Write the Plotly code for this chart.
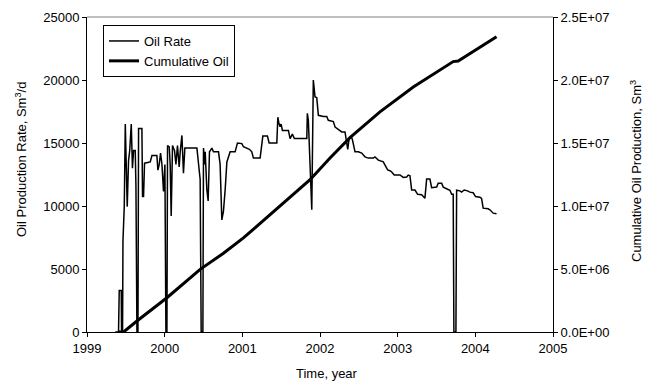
import plotly.graph_objects as go

# Oil rate, Sm3/d (decimal year, value)
rate_year = [
    1999.364, 1999.406, 1999.415, 1999.441, 1999.445, 1999.458, 1999.463, 1999.480, 1999.493, 1999.505,
    1999.518, 1999.535, 1999.550, 1999.570, 1999.585, 1999.600, 1999.621, 1999.630, 1999.643, 1999.656,
    1999.664, 1999.707, 1999.715, 1999.728, 1999.741, 1999.814, 1999.836, 1999.900, 1999.913, 1999.930,
    1999.947, 1999.965, 1999.985, 2000.003, 2000.016, 2000.029, 2000.037, 2000.059, 2000.071, 2000.084,
    2000.101, 2000.127, 2000.145, 2000.165, 2000.187, 2000.200, 2000.222, 2000.242, 2000.260, 2000.415,
    2000.435, 2000.457, 2000.470, 2000.492, 2000.500, 2000.515, 2000.522, 2000.543, 2000.560, 2000.577,
    2000.608, 2000.628, 2000.693, 2000.714, 2000.736, 2000.757, 2000.779, 2000.801, 2000.843, 2000.907,
    2000.937, 2000.994, 2001.014, 2001.091, 2001.122, 2001.143, 2001.229, 2001.251, 2001.264, 2001.323,
    2001.345, 2001.444, 2001.457, 2001.473, 2001.486, 2001.499, 2001.516, 2001.593, 2001.615, 2001.644,
    2001.670, 2001.830, 2001.837, 2001.850, 2001.859, 2001.894, 2001.914, 2001.936, 2001.958, 2001.979,
    2002.043, 2002.087, 2002.107, 2002.172, 2002.194, 2002.258, 2002.280, 2002.322, 2002.344, 2002.357,
    2002.374, 2002.399, 2002.416, 2002.451, 2002.493, 2002.537, 2002.579, 2002.622, 2002.686, 2002.708,
    2002.751, 2002.815, 2002.837, 2002.871, 2002.901, 2002.923, 2002.956, 2003.030, 2003.072, 2003.116,
    2003.136, 2003.158, 2003.180, 2003.223, 2003.257, 2003.309, 2003.351, 2003.373, 2003.415, 2003.437,
    2003.502, 2003.522, 2003.566, 2003.587, 2003.643, 2003.673, 2003.695, 2003.715, 2003.724, 2003.750,
    2003.759, 2003.801, 2003.823, 2003.857, 2003.900, 2003.930, 2003.972, 2004.003, 2004.059, 2004.080,
    2004.101, 2004.165, 2004.187, 2004.230, 2004.273,
]
rate_value = [
    0, 0, 3300, 3300, 0, 0, 7200, 10000, 16500, 12000,
    9950, 13600, 14400, 16500, 13000, 14400, 14400, 11600, 0, 0,
    16150, 16150, 10750, 10750, 13400, 13500, 14000, 14000, 12850, 13300,
    14200, 13300, 11150, 13300, 0, 0, 14800, 14700, 13300, 9200,
    14800, 14400, 13300, 14800, 13100, 14300, 15600, 12600, 14600, 14600,
    13100, 12100, 0, 0, 14600, 13300, 14300, 11300, 10400, 14300,
    14600, 14300, 14300, 13300, 8900, 9600, 11300, 13500, 14300, 14300,
    15000, 14950, 14700, 14500, 14300, 13800, 13800, 14900, 15550, 15550,
    15000, 15000, 17050, 16500, 16300, 16500, 16000, 16000, 15350, 15700,
    15350, 15350, 17350, 16800, 15350, 9700, 20000, 18650, 18600, 17200,
    17100, 17100, 16800, 16700, 16270, 16000, 15880, 15880, 14960, 14500,
    15300, 15540, 15300, 14300, 14300, 14200, 13900, 13800, 13800, 13900,
    13640, 13500, 13250, 12860, 12800, 12700, 12460, 12460, 12270, 12300,
    12450, 12400, 11270, 11270, 10930, 10900, 10620, 12150, 12150, 11450,
    11500, 11800, 11800, 11500, 11330, 11250, 10930, 10930, 0, 0,
    11250, 11200, 11100, 11270, 11200, 11100, 11050, 10750, 10700, 10600,
    9830, 9780, 9700, 9430, 9380,
]

# Cumulative oil, Sm3
cum_year = [1999.400, 1999.471, 1999.643, 2000.029, 2000.457, 2000.757, 2001.014,
            2001.400, 2001.872, 2002.129, 2002.386, 2002.772, 2003.201, 2003.715,
            2003.779, 2004.273]
cum_value = [0, 0, 0.87e6, 2.72e6, 4.97e6, 6.25e6, 7.47e6,
             9.58e6, 12.09e6, 13.81e6, 15.42e6, 17.47e6, 19.45e6, 21.46e6,
             21.5e6, 23.44e6]

x_ticks = [1999, 2000, 2001, 2002, 2003, 2004, 2005]
y_ticks = [0, 5000, 10000, 15000, 20000, 25000]
y2_ticks = [0, 5e6, 1e7, 1.5e7, 2e7, 2.5e7]
y2_ticktext = ["0.0E+00", "5.0E+06", "1.0E+07", "1.5E+07", "2.0E+07", "2.5E+07"]

FONT = "Liberation Sans, Arial, sans-serif"
W, H = 658, 387
ML, MR, MT, MB = 87, 105, 17, 55

fig = go.Figure()
fig.add_trace(go.Scatter(x=rate_year, y=rate_value, mode="lines", name="Oil Rate",
                         line=dict(color="black", width=1.5)))
fig.add_trace(go.Scatter(x=cum_year, y=cum_value, mode="lines", name="Cumulative Oil",
                         line=dict(color="black", width=3), yaxis="y2"))

axis_common = dict(showgrid=False, zeroline=False, showline=True, linecolor="black", linewidth=1,
                   ticks="outside", ticklen=4, tickcolor="black", automargin=False,
                   tickfont=dict(family=FONT, size=13, color="black"))

pw = W - ML - MR
ph = H - MT - MB

def px_x(x):  # pixel -> paper x
    return (x - ML) / pw

def px_y(y):  # pixel -> paper y
    return 1 - (y - MT) / ph

annotations = [
    dict(text="Time, year", x=px_x(327), y=px_y(373), xref="paper", yref="paper",
         showarrow=False, xanchor="center", yanchor="middle",
         font=dict(family=FONT, size=13, color="black")),
    dict(text="Oil Production Rate, Sm<sup>3</sup>/d", x=px_x(21), y=px_y(160), xref="paper", yref="paper",
         showarrow=False, xanchor="center", yanchor="middle", textangle=-90,
         font=dict(family=FONT, size=13, color="black")),
    dict(text="Cumulative Oil Production, Sm<sup>3</sup>", x=px_x(636), y=px_y(171), xref="paper", yref="paper",
         showarrow=False, xanchor="center", yanchor="middle", textangle=-90,
         font=dict(family=FONT, size=13, color="black")),
]

fig.update_layout(
    width=W, height=H,
    margin=dict(l=ML, r=MR, t=MT, b=MB, autoexpand=False),
    paper_bgcolor="white", plot_bgcolor="white",
    font=dict(family=FONT, size=13, color="black"),
    xaxis=dict(range=[1999, 2005], tickvals=x_ticks, tickformat="d", **axis_common),
    yaxis=dict(range=[0, 25000], tickvals=y_ticks, tickformat="d", **axis_common),
    yaxis2=dict(range=[0, 2.5e7], tickvals=y2_ticks, ticktext=y2_ticktext, overlaying="y", side="right",
                **axis_common),
    legend=dict(x=px_x(103), y=px_y(25), xanchor="left", yanchor="top", bordercolor="black", borderwidth=1,
                bgcolor="white", font=dict(family=FONT, size=13), tracegroupgap=0),
    showlegend=True,
    annotations=annotations,
    shapes=[dict(type="line", xref="paper", yref="paper", x0=0, x1=1, y0=1, y1=1,
                 line=dict(color="gray", width=1))],
)

fig.write_html("out.html", config={"displayModeBar": False},
               post_script="document.body.style.margin='0';document.body.style.overflow='hidden';")
